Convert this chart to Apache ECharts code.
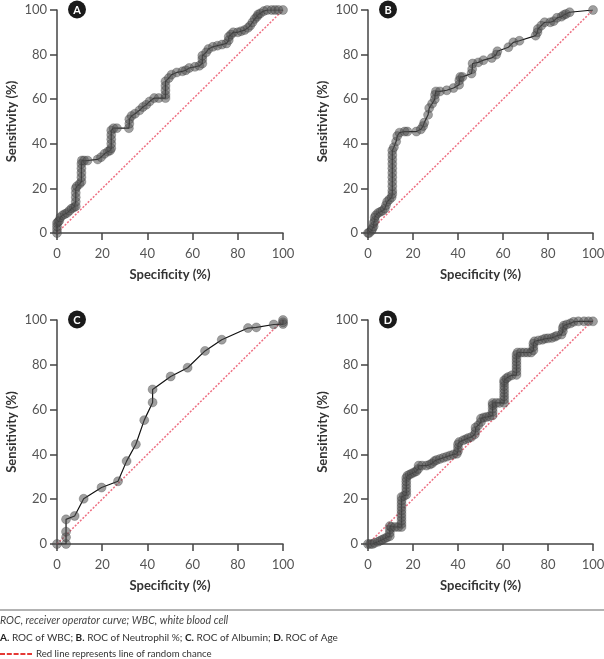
<!DOCTYPE html>
<html>
<head>
<meta charset="utf-8">
<script src="https://cdn.jsdelivr.net/npm/echarts@6/dist/echarts.min.js"></script>
<style>
  html, body { margin: 0; padding: 0; background: #fff; }
  #main { width: 604px; height: 659px; }
</style>
</head>
<body>
<div id="main"></div>
<script>
// ROC points [specificity, sensitivity]
var rocWBC = [[0,0],[0,1.5],[0,3],[0,4.5],[0.5,5],[1,5.5],[1.5,7],[2.5,8],[3.5,8.5],[4.5,9],[5.5,10],[6.5,11],[7.5,11.5],[8.3,12],[8.3,14],[8.3,16],[8.3,18],[8.3,20],[8.8,21],[10,22],[10.8,23],[10.8,25],[10.8,27],[10.8,29],[10.8,31],[11,32.5],[12,32.5],[13.5,32.5],[18,33],[19.5,34],[21,35.5],[22.5,36.5],[23.5,37],[24,38],[24,40],[24,42],[24,44],[24,46],[25,47],[26.5,47],[31.8,47],[32,49],[32,51],[33,52.5],[34.5,53.5],[36.5,55],[38,56.5],[39.5,57.5],[41,59],[43,60.5],[45,60.5],[48,60.5],[48,62],[48,64],[48,66],[48,68],[49.5,69.5],[50.7,71],[53,72],[55.5,72.5],[57,73],[58.5,74],[61,74.5],[63,75],[64.3,76],[64.3,78],[64.3,79.5],[66,81],[67,82.5],[69,83.5],[71,84],[73,84.5],[75,85],[76,86.5],[76,88],[77,89],[78,90],[80,90],[81.5,90.5],[83,91],[84.5,92],[85.5,93],[86.5,94.5],[87.5,96],[88.5,97],[89,98],[90,98.5],[91.5,99.5],[93,100],[95,100],[96.5,100],[98,100],[100,100]];

var rocNeut = [[0,0],[0.5,0],[1.5,1],[2,2],[2.5,3],[2.5,4.5],[3,5.5],[3,7],[3.5,8],[4.5,9],[5.5,9.5],[6.5,10],[7.5,11],[8,12.5],[8.5,14],[9.5,15],[10.5,16],[10.8,17.5],[10.8,19],[10.8,21],[10.8,23],[10.8,25],[10.8,27],[10.8,29],[10.8,31],[10.8,33],[10.8,35],[10.8,37],[11.5,38.5],[12.5,41],[13,43.5],[14,45],[16.3,45.5],[17.5,45.5],[21.5,45.5],[23.5,46.5],[24.5,48],[25,49.5],[26.7,53],[27.2,56],[28.5,58],[29.7,60],[29.8,62],[30.2,63.5],[32,63.5],[35,64],[38,65],[40.5,66.5],[40.6,68.5],[41,70],[42,70],[46,71.5],[46.3,73.5],[46.5,76],[49,76.5],[51.3,77.5],[55,78.5],[57,80],[57.5,81.5],[62.4,83.3],[64.6,85.5],[67.3,86.2],[74.5,88.5],[75.3,90],[75.5,91.5],[77,93],[78.5,94.5],[81,94.5],[82.5,95],[84,96.5],[86,97],[87,97.8],[88,98.2],[89.6,99],[100,100]];

var rocAlb = [[0,0],[4,0],[4,3],[4,5.5],[4,11],[7.8,12.5],[11.8,20.2],[19.7,25.2],[27,28],[30.8,37],[34.9,44.5],[38.6,55.3],[42.3,63.2],[42.3,69],[50.3,74.8],[57.8,78.7],[65.5,86.2],[72.9,91.2],[84.5,96.4],[88.2,96.7],[95.9,98],[100,98.2],[100,99],[100,100]];

var rocAge = [[0,0],[1,0],[2,0],[3,0.5],[4.5,1],[5.5,1.5],[6.5,2],[7.5,2.5],[8.5,3],[9.7,3.5],[9.7,5],[9.7,6.5],[9.7,8],[10.5,7.6],[12,7.6],[13.5,7.6],[14.9,7.6],[14.9,9],[14.9,10.5],[14.9,12],[14.9,13.5],[14.9,15],[14.9,16.5],[14.9,18],[14.9,19.5],[14.9,21],[16,21.5],[17,22],[17,23.5],[17,25],[17,26.5],[17,28],[17,29.5],[17.5,30.5],[18.5,31],[19.5,31.5],[20.5,32],[21.5,32.5],[22.3,33.5],[22.5,35],[24,35],[26,35],[27.5,35.5],[28.5,36],[29.5,37],[30.5,37.5],[32,38],[33.5,38.5],[35,39],[36.5,39.5],[38,40],[39.5,40.3],[40,41.5],[40,43],[40,44.5],[40.5,45.5],[42.3,46.3],[43.5,46.8],[44.6,47.3],[46,47.8],[47.5,49],[47.8,50.5],[47.8,52],[49,53],[50.2,54.5],[50.2,56],[51.5,56.5],[52.7,56.7],[54,57],[55.4,57.4],[55.4,59],[55.4,60.5],[55.4,62],[55.4,63],[57,63],[58.5,63],[60.5,63],[60.5,64.5],[60.5,66],[60.5,67.5],[60.5,69],[60.5,70.5],[60.5,72],[60.5,73],[61.5,74],[62.4,74.6],[63.9,75.3],[66,75.5],[66,77],[66,78.5],[66,80],[66,81.5],[66,83],[66,84.5],[66.5,85.5],[68,85.5],[69.5,85.5],[71,85.5],[72.5,85.5],[73.5,86.5],[73.5,88],[73.5,89.5],[74,90.5],[75.8,90.9],[77.5,91.2],[78.7,91.7],[80,91.8],[81.7,92],[83,92.5],[84,93],[86,93.5],[86.6,95],[86.6,96.5],[87,97.5],[88.4,98],[90,98.5],[91.4,99.2],[93.5,99.4],[96,99.4],[98,99.4],[100,99.4]];

var chanceLine = [[0,0],[100,100]];
var panelLetters = ['A', 'B', 'C', 'D'];
var xTitle = 'Specificity (%)';
var yTitle = 'Sensitivity (%)';
var footNotes = [
  'ROC, receiver operator curve; WBC, white blood cell',
  'A. ROC of WBC; B. ROC of Neutrophil %; C. ROC of Albumin; D. ROC of Age',
  'Red line represents line of random chance'
];

var chartDom = document.getElementById('main');
var myChart = echarts.init(chartDom, null, { renderer: 'canvas' });

var FONT = 'Lato, "Open Sans", sans-serif';
var grids = [
  { left: 57, top: 10, width: 226, height: 223 },
  { left: 368, top: 10, width: 225, height: 223 },
  { left: 57, top: 320, width: 226, height: 224 },
  { left: 368, top: 320, width: 225, height: 224 }
];
var curves = [rocWBC, rocNeut, rocAlb, rocAge];

var xAxes = [], yAxes = [], series = [], graphics = [];
grids.forEach(function (g, i) {
  g.containLabel = false;
  g.outerBoundsMode = 'none';
  var axisCommon = {
    gridIndex: i,
    type: 'value',
    min: 0,
    max: 100,
    interval: 20,
    splitLine: { show: false },
    axisLine: { show: true, onZero: false, lineStyle: { color: '#444', width: 1.5 } },
    axisTick: { show: true, inside: false, length: 7, lineStyle: { color: '#444', width: 1.5 } },
    axisLabel: { color: '#555', fontSize: 13, fontFamily: FONT },
    nameLocation: 'middle',
    nameTextStyle: { color: '#333', fontSize: 13, fontWeight: 'bold', fontFamily: FONT }
  };
  xAxes.push(Object.assign({}, axisCommon, {
    name: xTitle, nameGap: 35,
    axisLabel: Object.assign({}, axisCommon.axisLabel, { margin: 14 })
  }));
  yAxes.push(Object.assign({}, axisCommon, {
    name: yTitle, nameGap: 39,
    axisLabel: Object.assign({}, axisCommon.axisLabel, { margin: 10 })
  }));
  // line of random chance
  series.push({
    type: 'line',
    xAxisIndex: i,
    yAxisIndex: i,
    data: chanceLine,
    symbol: 'none',
    silent: true,
    z: 1,
    lineStyle: { color: '#ee6f82', width: 1.5, type: [2, 1.6] },
    emphasis: { disabled: true }
  });
  series.push({
    type: 'line',
    xAxisIndex: i,
    yAxisIndex: i,
    data: curves[i],
    symbol: 'circle',
    symbolSize: 9,
    showAllSymbol: true,
    z: 3,
    lineStyle: { color: '#111', width: 1.2 },
    itemStyle: { color: 'rgba(80,80,80,0.55)', borderColor: 'rgba(40,40,40,0.25)', borderWidth: 1 }
  });
  // panel letter badge
  graphics.push({
    type: 'group',
    left: g.left + 11,
    top: g.top - 9.5,
    children: [
      { type: 'circle', shape: { cx: 9, cy: 9, r: 9 }, style: { fill: '#1a1a1a' } },
      { type: 'text', x: 9, y: 9.5, style: { text: panelLetters[i], fill: '#fff', font: 'bold 11px ' + FONT, align: 'center', verticalAlign: 'middle' } }
    ]
  });
});

// footer
graphics.push({
  type: 'line', shape: { x1: 0, y1: 610, x2: 604, y2: 610 },
  style: { stroke: '#9a9a9a', lineWidth: 1.3 }
});
graphics.push({
  type: 'text', x: 0, y: 621,
  style: { text: footNotes[0], fill: '#444', font: 'italic 10.6px ' + FONT, verticalAlign: 'middle' }
});
graphics.push({
  type: 'text', x: 0, y: 637.5,
  style: {
    text: '{b|A.} ROC of WBC; {b|B.} ROC of Neutrophil %; {b|C.} ROC of Albumin; {b|D.} ROC of Age',
    fill: '#333', font: '10px ' + FONT, verticalAlign: 'middle',
    rich: { b: { fontWeight: 'bold', fontSize: 10, fontFamily: FONT, fill: '#222' } }
  }
});
graphics.push({
  type: 'line', shape: { x1: 0, y1: 654, x2: 32, y2: 654 },
  style: { stroke: '#e53935', lineWidth: 1.8, lineDash: [5, 1.8] }
});
graphics.push({
  type: 'text', x: 36, y: 654,
  style: { text: footNotes[2], fill: '#333', font: '9.6px ' + FONT, verticalAlign: 'middle' }
});

var option = {
  animation: false,
  backgroundColor: '#fff',
  grid: grids,
  xAxis: xAxes,
  yAxis: yAxes,
  series: series,
  graphic: graphics
};

option && myChart.setOption(option);
</script>
</body>
</html>
